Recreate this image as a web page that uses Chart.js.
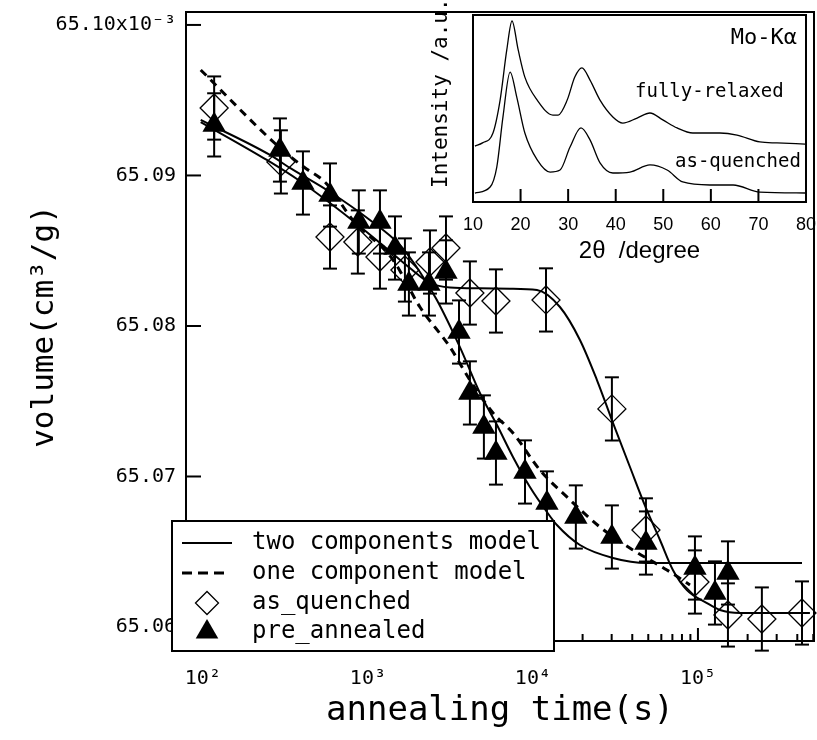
<!DOCTYPE html>
<html>
<head>
<meta charset="utf-8">
<script src="https://cdn.jsdelivr.net/npm/chart.js@4.4.0/dist/chart.umd.min.js"></script>
<style>
  body { margin: 0; background: #fff; }
  #wrap { position: relative; width: 817px; height: 740px; }
  #main { position: absolute; left: 0; top: 0; }
  #inset { position: absolute; left: 410px; top: 0; }
</style>
</head>
<body>
<div id="wrap">
  <canvas id="main" width="817" height="740"></canvas>
  <canvas id="inset" width="407" height="270"></canvas>
</div>
<script>
// measured points: annealing time (s) and volume (cm3/g)
const timeAsQuenched = [117, 297, 589, 869, 1183, 1676, 2377, 2972, 4150, 5970, 12000, 30100, 48400, 95900, 152000, 244000, 427000];
const volAsQuenched = [65.09448, 65.0909, 65.08591, 65.08558, 65.08458, 65.08372, 65.08425, 65.08518, 65.08219, 65.08166,
                       65.08173, 65.07449, 65.06645, 65.06299, 65.0608, 65.06053, 65.06093];
const errAsQuenched = [0.0021, 0.0021, 0.0021, 0.0021, 0.0021, 0.0021, 0.0021, 0.0021, 0.0021, 0.0021,
                       0.0021, 0.0021, 0.0021, 0.0021, 0.0021, 0.0021, 0.0021];

const timePreAnnealed = [117, 293, 404, 589, 881, 1183, 1459, 1772, 2344, 2972, 3564, 4150, 5045, 5970, 8950,
                         12160, 18200, 30100, 48400, 95900, 126800, 152000];
const volPreAnnealed = [65.09336, 65.09169, 65.0895, 65.0887, 65.08691, 65.08691, 65.08518, 65.08279, 65.08279, 65.08359,
                        65.0796, 65.07555, 65.07329, 65.07156, 65.0703, 65.06824, 65.06731, 65.06598, 65.06558, 65.06392,
                        65.06226, 65.06359];
const errPreAnnealed = [0.0021, 0.0021, 0.0021, 0.0021, 0.0021, 0.0021, 0.0021, 0.0021, 0.0021, 0.0021, 0.0021,
                        0.0021, 0.0021, 0.0021, 0.0021, 0.0021, 0.0021, 0.0021, 0.0021, 0.0021, 0.0021, 0.0021];

// model curves
const timeFit2AsQ = [97, 244, 387, 589, 857, 1267, 1797, 2377, 3141, 4771, 7260, 10580, 14580, 19270, 24430,
                     30100, 38730, 48400, 58880, 70500, 85700, 113400, 136000, 179700, 477000];
const volFit2AsQ = [65.09355, 65.09103, 65.08963, 65.08817, 65.08678, 65.08525, 65.08385, 65.08286, 65.08255, 65.0825,
                    65.08248, 65.08239, 65.08126, 65.07907, 65.07641, 65.07375, 65.07063, 65.06791, 65.06578, 65.06379,
                    65.06246, 65.06159, 65.06113, 65.06093, 65.06093];
const timeFit2Pre = [97, 255, 337, 589, 1028, 1563, 2066, 2618, 3610, 4771, 6056, 7570, 9590, 12160, 13970,
                     19270, 30550, 49100, 102800, 427000];
const volFit2Pre = [65.09369, 65.09136, 65.0905, 65.0889, 65.08704, 65.08538, 65.08359, 65.08173, 65.0786, 65.07555,
                    65.07342, 65.0713, 65.0693, 65.06764, 65.06678, 65.06545, 65.06459, 65.06425, 65.06425, 65.06425];
const timeFit1 = [97, 289, 409, 556, 811, 1419, 2066, 3141, 4150, 5730, 7570, 11020, 16070, 25470, 40360, 64860, 89500];
const volFit1 = [65.09701, 65.09189, 65.09056, 65.0895, 65.08704, 65.08439, 65.08126, 65.0786, 65.07641, 65.07422,
                 65.07289, 65.07043, 65.06864, 65.06664, 65.06512, 65.06379, 65.06279];

const xTicks = [100, 1000, 10000, 100000];
const xTickLabels = ['10²', '10³', '10⁴', '10⁵'];
const yTicks = [65.06, 65.07, 65.08, 65.09, 65.10];
const yTickLabels = ['65.06', '65.07', '65.08', '65.09', '65.10x10⁻³'];
const legendLabels = ['two components model', 'one component model', 'as_quenched', 'pre_annealed'];

// inset: XRD patterns
const relaxedAngle = [10.4, 12, 14.2, 15.7, 17.1, 18.2, 19.5, 20.9, 23.5, 26.8, 27.9, 29.8, 31.4, 32.9, 34.6, 36.7,
                      39.4, 41.5, 44.5, 47.2, 49.9, 52.9, 56.2, 61.9, 65.5, 70.3, 73.9, 79.8];
const relaxedInt = [29.9, 31.6, 36.9, 54.5, 81.3, 96.8, 81.3, 66.8, 54.5, 46.5, 46.5, 54.5, 66.8, 71.7, 65.2, 54.5,
                    45.5, 42.2, 44.9, 47.6, 43.9, 39.6, 36.9, 36.9, 35.8, 32.1, 31.6, 31.0];
const quenchedAngle = [10.4, 13.6, 15.0, 16.3, 17.8, 19.2, 20.9, 23.5, 26.2, 28.3, 30.4, 32.7, 34.6, 36.7, 39.4,
                       43.0, 47.2, 50.8, 54.1, 59.8, 64.7, 70.3, 79.8];
const quenchedInt = [4.8, 8.0, 18.7, 45.5, 69.5, 56.1, 36.9, 22.5, 16.0, 17.1, 29.4, 39.6, 33.2, 20.9, 15.5,
                     16.0, 19.8, 17.1, 10.7, 9.1, 9.1, 5.3, 4.8];
const insetTicks = [10, 20, 30, 40, 50, 60, 70, 80];

const pts = (xs, ys) => xs.map((x, i) => ({ x: x, y: ys[i] }));
const MONO = 'DejaVu Sans Mono';

function seg(ctx, x1, y1, x2, y2) {
    ctx.beginPath();
    ctx.moveTo(x1, y1);
    ctx.lineTo(x2, y2);
    ctx.stroke();
}

// keep the plot box where the original has it, labels may overflow
function noPad(s) {
    s.paddingLeft = 0;
    s.paddingRight = 0;
    s.paddingTop = 0;
    s.paddingBottom = 0;
}

const mainDecor = {
    id: 'mainDecor',
    afterDatasetsDraw(chart) {
        const ctx = chart.ctx;
        const a = chart.chartArea;
        const x = chart.scales.x, y = chart.scales.y;
        ctx.save();
        ctx.strokeStyle = '#000';
        ctx.lineWidth = 2;
        // error bars
        [[0, errAsQuenched], [1, errPreAnnealed]].forEach(([i, errs]) => {
            chart.data.datasets[i].data.forEach((p, k) => {
                const px = x.getPixelForValue(p.x);
                const y1 = y.getPixelForValue(p.y + errs[k]);
                const y2 = y.getPixelForValue(p.y - errs[k]);
                seg(ctx, px, y1, px, y2);
                seg(ctx, px - 7, y1, px + 7, y1);
                seg(ctx, px - 7, y2, px + 7, y2);
            });
        });
        // frame
        ctx.strokeRect(a.left, a.top, a.right - a.left, a.bottom - a.top);
        // inward ticks
        yTicks.forEach(v => {
            const py = y.getPixelForValue(v);
            seg(ctx, a.left, py, a.left + 15, py);
        });
        for (let e = 1; e <= 5; e++) {
            for (let d = 1; d <= 9; d++) {
                const v = d * Math.pow(10, e);
                if (v < x.min || v > x.max) continue;
                const px = x.getPixelForValue(v);
                seg(ctx, px, a.bottom, px, a.bottom - (d === 1 ? 13 : 7));
            }
        }
        ctx.restore();
    },
    afterDraw(chart) {
        // legend box, drawn over axis and plot like the original
        const ctx = chart.ctx;
        const lx = 172, ly = 521, lw = 382, lh = 130;
        const rows = [543, 573, 603, 632];
        ctx.save();
        ctx.fillStyle = '#fff';
        ctx.fillRect(lx, ly, lw, lh);
        ctx.strokeStyle = '#000';
        ctx.lineWidth = 2;
        ctx.strokeRect(lx, ly, lw, lh);

        seg(ctx, 182, rows[0], 232, rows[0]);
        ctx.lineWidth = 3;
        ctx.setLineDash([10, 6]);
        seg(ctx, 182, rows[1], 228, rows[1]);
        ctx.setLineDash([]);

        ctx.lineWidth = 1.3;
        ctx.beginPath();
        ctx.moveTo(207 - 11.5, rows[2]);
        ctx.lineTo(207, rows[2] - 11.5);
        ctx.lineTo(207 + 11.5, rows[2]);
        ctx.lineTo(207, rows[2] + 11.5);
        ctx.closePath();
        ctx.stroke();

        ctx.fillStyle = '#000';
        ctx.beginPath();
        ctx.moveTo(207, rows[3] - 13);
        ctx.lineTo(207 + 11.3, rows[3] + 6.5);
        ctx.lineTo(207 - 11.3, rows[3] + 6.5);
        ctx.closePath();
        ctx.fill();

        ctx.font = '24px "' + MONO + '"';
        ctx.textBaseline = 'middle';
        ctx.textAlign = 'left';
        legendLabels.forEach((t, i) => ctx.fillText(t, 252, rows[i]));
        ctx.restore();
    }
};

new Chart(document.getElementById('main'), {
    type: 'scatter',
    data: {
        datasets: [
            {
                label: 'as_quenched',
                data: pts(timeAsQuenched, volAsQuenched),
                pointStyle: 'rectRot',
                pointRadius: 14,
                pointBorderWidth: 1.3,
                pointBorderColor: '#000',
                pointBackgroundColor: 'rgba(0,0,0,0)',
                clip: false
            },
            {
                label: 'pre_annealed',
                data: pts(timePreAnnealed, volPreAnnealed),
                pointStyle: 'triangle',
                pointRadius: 13.5,
                pointBorderWidth: 0,
                pointBackgroundColor: '#000',
                clip: false
            },
            {
                label: 'two components model',
                data: pts(timeFit2AsQ, volFit2AsQ),
                showLine: true,
                borderColor: '#000',
                borderWidth: 2,
                pointRadius: 0,
                cubicInterpolationMode: 'monotone'
            },
            {
                label: 'two components model',
                data: pts(timeFit2Pre, volFit2Pre),
                showLine: true,
                borderColor: '#000',
                borderWidth: 2,
                pointRadius: 0,
                cubicInterpolationMode: 'monotone'
            },
            {
                label: 'one component model',
                data: pts(timeFit1, volFit1),
                showLine: true,
                borderColor: '#000',
                borderWidth: 3,
                borderDash: [8, 6],
                pointRadius: 0,
                cubicInterpolationMode: 'monotone'
            }
        ]
    },
    options: {
        responsive: false,
        animation: false,
        events: [],
        layout: { autoPadding: false, padding: { top: 12, right: 3, left: 0, bottom: 0 } },
        plugins: { legend: { display: false }, tooltip: { enabled: false } },
        scales: {
            x: {
                type: 'logarithmic',
                position: 'bottom',
                min: 79,
                max: 505000,
                grid: { display: false, drawTicks: false },
                border: { display: false },
                afterBuildTicks: s => { s.ticks = xTicks.map(v => ({ value: v })); },
                afterFit: s => { s.height = 99; noPad(s); },
                ticks: {
                    color: '#000',
                    font: { family: MONO, size: 20 },
                    padding: 26,
                    autoSkip: false,
                    maxRotation: 0,
                    callback: (v, i) => xTickLabels[i]
                },
                title: {
                    display: true,
                    text: 'annealing time(s)',
                    color: '#000',
                    font: { family: MONO, size: 34 },
                    padding: { top: 0, bottom: 8 }
                }
            },
            y: {
                type: 'linear',
                min: 65.05907,
                max: 65.10086,
                grid: { display: false, drawTicks: false },
                border: { display: false },
                afterBuildTicks: s => { s.ticks = yTicks.map(v => ({ value: v })); },
                afterFit: s => { s.width = 186; noPad(s); },
                ticks: {
                    color: '#000',
                    font: { family: MONO, size: 20 },
                    padding: 10,
                    callback: (v, i) => yTickLabels[i]
                },
                title: {
                    display: true,
                    text: 'volume(cm³/g)',
                    color: '#000',
                    font: { family: MONO, size: 31 },
                    padding: { top: 26, bottom: 0 }
                }
            }
        }
    },
    plugins: [mainDecor]
});

const insetDecor = {
    id: 'insetDecor',
    afterDatasetsDraw(chart) {
        const ctx = chart.ctx;
        const a = chart.chartArea;
        const x = chart.scales.x;
        ctx.save();
        ctx.strokeStyle = '#000';
        ctx.lineWidth = 2;
        ctx.strokeRect(a.left, a.top, a.right - a.left, a.bottom - a.top);
        insetTicks.forEach(v => {
            const px = x.getPixelForValue(v);
            seg(ctx, px, a.bottom, px, a.bottom - 13);
        });
        ctx.fillStyle = '#000';
        ctx.textBaseline = 'middle';
        ctx.font = '22px "' + MONO + '"';
        ctx.textAlign = 'right';
        ctx.fillText('Mo-Kα', 387, 38);
        ctx.font = '19px "' + MONO + '"';
        ctx.textAlign = 'left';
        ctx.fillText('fully-relaxed', 225, 92);
        ctx.fillText('as-quenched', 265, 162);
        ctx.translate(32, 188);
        ctx.rotate(-Math.PI / 2);
        ctx.font = '21px "' + MONO + '"';
        ctx.fillText('Intensity /a.u.', 0, 0);
        ctx.restore();
    }
};

new Chart(document.getElementById('inset'), {
    type: 'scatter',
    data: {
        datasets: [
            {
                data: pts(relaxedAngle, relaxedInt),
                showLine: true,
                borderColor: '#000',
                borderWidth: 1.3,
                pointRadius: 0,
                cubicInterpolationMode: 'monotone'
            },
            {
                data: pts(quenchedAngle, quenchedInt),
                showLine: true,
                borderColor: '#000',
                borderWidth: 1.3,
                pointRadius: 0,
                cubicInterpolationMode: 'monotone'
            }
        ]
    },
    options: {
        responsive: false,
        animation: false,
        events: [],
        layout: { autoPadding: false, padding: { left: 63, right: 11, top: 15, bottom: 0 } },
        plugins: { legend: { display: false }, tooltip: { enabled: false } },
        scales: {
            x: {
                type: 'linear',
                min: 10,
                max: 80,
                grid: { display: false, drawTicks: false },
                border: { display: false },
                afterBuildTicks: s => { s.ticks = insetTicks.map(v => ({ value: v })); },
                afterFit: s => { s.height = 68; noPad(s); },
                ticks: {
                    color: '#000',
                    font: { family: 'Liberation Sans', size: 18 },
                    padding: 12,
                    autoSkip: false,
                    maxRotation: 0
                },
                title: {
                    display: true,
                    text: '2θ  /degree',
                    color: '#000',
                    font: { family: 'Liberation Sans', size: 24 },
                    padding: { top: 4, bottom: 4 }
                }
            },
            y: { display: false, min: 0, max: 100 }
        }
    },
    plugins: [insetDecor]
});
</script>
</body>
</html>
